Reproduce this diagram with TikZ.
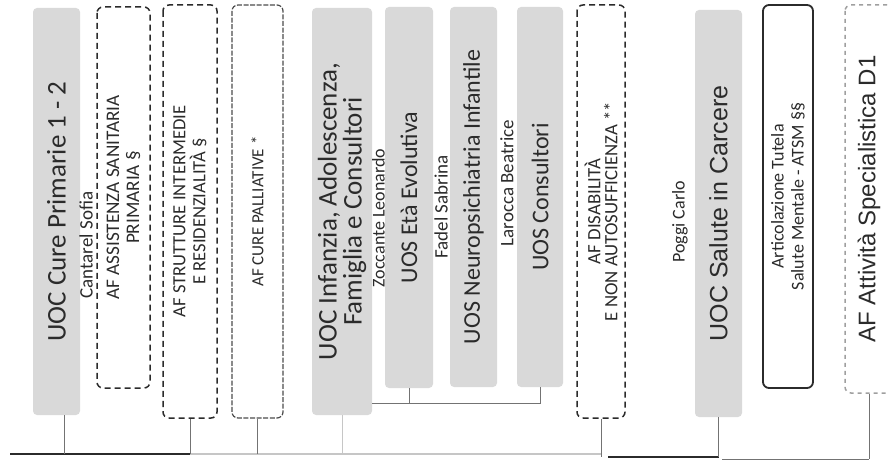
\documentclass[tikz,border=0pt]{standalone}
\usepackage{fontspec}
\setmainfont{Carlito}
\newfontfamily\arialf{Liberation Sans}
\definecolor{boxgray}{HTML}{D9D9D9}
\definecolor{inkgray}{HTML}{2B2B2B}
\begin{document}
\begin{tikzpicture}[x=0.5pt, y=-0.5pt,
  unit/.style={rotate=90, align=center, inner sep=1pt, text=inkgray},
  uoc/.style={unit, fill=boxgray, rounded corners=2pt},
  af/.style={unit, draw=inkgray, line width=0.75pt, dash pattern=on 3pt off 2pt, rounded corners=3pt},
  afsolid/.style={unit, draw=inkgray!85, line width=0.6pt, dash pattern=on 2.5pt off 0.8pt, rounded corners=3pt},
  who/.style={rotate=90, inner sep=0pt, text=inkgray, font=\fontsize{9.5}{10}\selectfont},
  bigt/.style={font=\fontsize{13.5}{12.5}\selectfont},
  uost/.style={font=\fontsize{12}{12}\selectfont},
  capst/.style={font=\fontsize{9.6}{10}\selectfont},
  bus/.style={draw=inkgray, line width=1pt},
  link/.style={draw=gray!90!black, line width=0.5pt},
  faint/.style={draw=gray!45, line width=0.5pt}
]
\useasboundingbox (0,0) rectangle (888,464);

% distretto, colonna sinistra
\node[uoc, bigt, minimum width=203.5pt, minimum height=23.5pt] (cure) at (56.5,211.5) {UOC Cure Primarie 1 - 2};
\node[af, capst, minimum width=190.5pt, minimum height=26.5pt] (assist) at (123.5,197.5) {AF ASSISTENZA SANITARIA\\PRIMARIA §};
\node[af, font=\fontsize{9.3}{10}\selectfont, minimum width=206.5pt, minimum height=27pt] (strutt) at (190,211.5) {AF STRUTTURE INTERMEDIE\\E RESIDENZIALITÀ §};
\node[afsolid, font=\fontsize{8.5}{10}\selectfont, minimum width=206.5pt, minimum height=25.5pt] (pall) at (257.5,211.5) {AF CURE PALLIATIVE *};

% infanzia e consultori
\node[uoc, bigt, minimum width=203.5pt, minimum height=30pt] (infanzia) at (342,211.5) {UOC Infanzia, Adolescenza,\\Famiglia e Consultori};
\node[uoc, uost, minimum width=190.5pt, minimum height=24pt] (eta) at (409,197.5) {UOS Età Evolutiva};
\node[uoc, uost, minimum width=190pt, minimum height=23.5pt] (neuro) at (473.5,197) {UOS Neuropsichiatria Infantile};
\node[uoc, uost, minimum width=190pt, minimum height=23pt] (cons) at (540,197) {UOS Consultori};
\node[af, font=\fontsize{9.4}{8.5}\selectfont, minimum width=206.5pt, minimum height=24pt] (disab) at (601,211.5) {AF DISABILITÀ\\E NON AUTOSUFFICIENZA **};

% carcere e specialistica
\node[uoc, font=\arialf\fontsize{12.5}{13}\selectfont, minimum width=203.5pt, minimum height=23.5pt] (carcere) at (718.5,213.5) {UOC Salute in Carcere};
\node[unit, draw=inkgray, line width=0.9pt, rounded corners=3pt, font=\fontsize{9}{10}\selectfont, minimum width=191.5pt, minimum height=25pt] (atsm) at (788,196.5) {Articolazione Tutela\\Salute Mentale - ATSM §§};
\node[unit, draw=gray!75, line width=0.75pt, dash pattern=on 2pt off 2pt, rounded corners=3pt, font=\arialf\fontsize{12}{13}\selectfont, minimum width=194pt, minimum height=24pt] (spec) at (869,199) {AF Attività Specialistica D1};

% responsabili
\node[who] (cureW) at (86,245) {Cantarel Sofia};
\node[who, font=\fontsize{9}{9}\selectfont] (infanziaW) at (378.5,218) {Zoccante Leonardo};
\node[who] (etaW) at (441,207) {Fadel Sabrina};
\node[who] (neuroW) at (507,183) {Larocca Beatrice};
\node[who, font=\fontsize{9}{9}\selectfont] (carcereW) at (680,222) {Poggi Carlo};

% collegamenti
\coordinate (busL) at (10,454);
\coordinate (busM) at (608,457);
\coordinate (busR) at (722,459);
\coordinate (brk) at (372,403);

\draw[bus] (busL) -- (strutt.west |- busL);
\draw[faint, line width=0.8pt] (strutt.west |- busL) -- (disab.west |- busL);
\draw[bus] (busM) -- (carcere.west |- busM);
\draw[link] (busR) -- (spec.west |- busR);

\draw[link] ([xshift=4pt]cure.west) -- ([xshift=4pt]cure.west |- busL);
\draw[link] (strutt.west) -- (strutt.west |- busL);
\draw[link] (pall.west) -- (pall.west |- busL);
\draw[faint] (infanzia.west) -- (infanzia.west |- busL);
\draw[link] (disab.west) -- (disab.west |- busM);
\draw[link] (carcere.west) -- (carcere.west |- busM);
\draw[link] (spec.west) -- (spec.west |- busR);

\draw[link] (brk) -| (cons.west);
\draw[link] (eta.west) -- (eta.west |- brk);
\end{tikzpicture}
\end{document}
